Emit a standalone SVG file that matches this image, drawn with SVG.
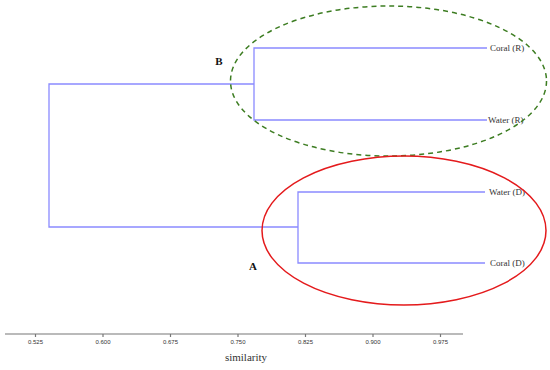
<svg xmlns="http://www.w3.org/2000/svg" width="550" height="370" viewBox="0 0 550 370">
<style>
.br{fill:none;stroke:#8a8aff;stroke-width:1.3}
.leaf{font-family:"Liberation Serif",serif;font-size:9px;fill:#333}
.tick{font-family:"Liberation Sans",sans-serif;font-size:6px;fill:#333;text-anchor:middle}
.ax{stroke:#777;stroke-width:1.2;fill:none}
.lab{font-family:"Liberation Serif",serif;font-size:11px;font-weight:bold;fill:#111}
</style>
<rect width="550" height="370" fill="#fff"/>
<g id="connectors">
<path class="br" d="M254,84 H49 V227 H298"/>
<path class="br" d="M487,48 H254 V120 H487"/>
<path class="br" d="M485,192 H298 V263 H485"/>
</g>
<g id="leaf-coral-r"><text class="leaf" x="490" y="51">Coral (R)</text></g>
<g id="leaf-water-r"><text class="leaf" x="488" y="123">Water (R)</text></g>
<g id="leaf-water-d"><text class="leaf" x="489" y="195">Water (D)</text></g>
<g id="leaf-coral-d"><text class="leaf" x="490" y="266">Coral (D)</text></g>
<g id="cluster-b">
<ellipse cx="388.5" cy="81" rx="158" ry="75" fill="none" stroke="#3d7d22" stroke-width="1.5" stroke-dasharray="5,4"/>
<text class="lab" x="219" y="65" text-anchor="middle">B</text>
</g>
<g id="cluster-a">
<ellipse cx="404" cy="230.5" rx="142" ry="74.5" fill="none" stroke="#e41a1c" stroke-width="1.5"/>
<text class="lab" x="253" y="270" text-anchor="middle">A</text>
</g>
<g id="axis">
<path class="ax" d="M5,334 H463 M35.5,334 v3 M103,334 v3 M170.5,334 v3 M238,334 v3 M305.5,334 v3 M373,334 v3 M440.5,334 v3"/>
<text class="tick" x="35.5" y="344">0.525</text>
<text class="tick" x="103" y="344">0.600</text>
<text class="tick" x="170.5" y="344">0.675</text>
<text class="tick" x="238" y="344">0.750</text>
<text class="tick" x="305.5" y="344">0.825</text>
<text class="tick" x="373" y="344">0.900</text>
<text class="tick" x="440.5" y="344">0.975</text>
<text x="246" y="361" text-anchor="middle" font-family="Liberation Serif,serif" font-size="11" fill="#333">similarity</text>
</g>
</svg>
